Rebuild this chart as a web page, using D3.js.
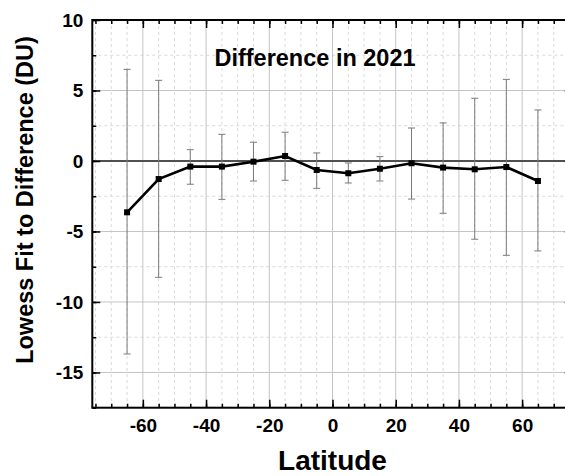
<!DOCTYPE html>
<html>
<head>
<meta charset="utf-8">
<script src="https://cdn.jsdelivr.net/npm/d3@7"></script>
<style>
  body { margin: 0; background: #fff; }
  svg { display: block; font-family: "Liberation Sans", Arial, sans-serif; }
</style>
</head>
<body>
<script>
// latitude bins and lowess fit with error range
const latitudes = [-65, -55, -45, -35, -25, -15, -5, 5, 15, 25, 35, 45, 55, 65];
const lowess = [-3.64, -1.28, -0.40, -0.40, -0.05, 0.35, -0.64, -0.87, -0.55, -0.16, -0.47, -0.59, -0.43, -1.42];
const errHigh = [6.5, 5.72, 0.80, 1.89, 1.33, 2.04, 0.57, -0.14, 0.31, 2.34, 2.70, 4.45, 5.79, 3.62];
const errLow = [-13.69, -8.25, -1.65, -2.72, -1.42, -1.37, -1.94, -1.56, -1.42, -2.70, -3.71, -5.55, -6.69, -6.38];
const xTicks = [-60, -40, -20, 0, 20, 40, 60];
const yTicks = [-15, -10, -5, 0, 5, 10];

const width = 565;
const height = 476;
const plotLeft = 92.3, plotRight = 572.7, plotTop = 20, plotBottom = 407.7;

const svg = d3.select('body').append('svg')
    .attr('width', width)
    .attr('height', height);

const x = d3.scaleLinear().domain([-76, 76]).range([plotLeft, plotRight]);
const y = d3.scaleLinear().domain([-17.5, 10]).range([plotBottom, plotTop]);

const xMinor = d3.range(-75, 76, 5);
const yMinor = d3.range(-17.5, 10.01, 2.5);
const plain = d => String(d);

// grid
const grid = svg.append('g');
grid.selectAll('.vminor')
    .data(xMinor.filter(v => v % 20 !== 0))
  .enter().append('line')
    .attr('x1', d => x(d)).attr('x2', d => x(d))
    .attr('y1', plotTop).attr('y2', plotBottom)
    .attr('stroke', '#dadada').attr('stroke-width', 1)
    .attr('stroke-dasharray', '3,3');
grid.selectAll('.hminor')
    .data(yMinor.filter(v => v % 5 !== 0))
  .enter().append('line')
    .attr('x1', plotLeft).attr('x2', plotRight)
    .attr('y1', d => y(d)).attr('y2', d => y(d))
    .attr('stroke', '#dadada').attr('stroke-width', 1)
    .attr('stroke-dasharray', '3,3');
grid.selectAll('.vmajor')
    .data(xTicks)
  .enter().append('line')
    .attr('x1', d => x(d)).attr('x2', d => x(d))
    .attr('y1', plotTop).attr('y2', plotBottom)
    .attr('stroke', '#c4c4c4').attr('stroke-width', 1);
grid.selectAll('.hmajor')
    .data(yTicks.filter(v => v !== 0 && v !== 10))
  .enter().append('line')
    .attr('x1', plotLeft).attr('x2', plotRight)
    .attr('y1', d => y(d)).attr('y2', d => y(d))
    .attr('stroke', '#c4c4c4').attr('stroke-width', 1);

// zero line
svg.append('line')
    .attr('x1', plotLeft).attr('x2', plotRight)
    .attr('y1', y(0)).attr('y2', y(0))
    .attr('stroke', '#505050').attr('stroke-width', 2);

// error bars
const eb = svg.append('g').attr('stroke', '#7a7a7a').attr('stroke-width', 1);
latitudes.forEach((lat, i) => {
  eb.append('line')
      .attr('x1', x(lat)).attr('x2', x(lat))
      .attr('y1', y(errLow[i])).attr('y2', y(errHigh[i]));
  [errLow[i], errHigh[i]].forEach(v => {
    eb.append('line')
        .attr('x1', x(lat) - 3.5).attr('x2', x(lat) + 3.5)
        .attr('y1', y(v)).attr('y2', y(v));
  });
});

// lowess line and markers
const line = d3.line()
    .x((d, i) => x(latitudes[i]))
    .y(d => y(d));
svg.append('path')
    .datum(lowess)
    .attr('d', line)
    .attr('fill', 'none')
    .attr('stroke', '#000')
    .attr('stroke-width', 2.6);
svg.selectAll('.pt')
    .data(lowess)
  .enter().append('rect')
    .attr('x', (d, i) => x(latitudes[i]) - 3)
    .attr('y', d => y(d) - 3)
    .attr('width', 6).attr('height', 6)
    .attr('fill', '#000');

// axes (ticks inside)
function styleAxis(g) {
  g.select('.domain').remove();
  g.selectAll('line').attr('stroke', '#000').attr('stroke-width', 1.5);
  g.selectAll('text')
      .attr('fill', '#000')
      .style('font-size', '19px')
      .style('font-weight', 'bold');
}

svg.append('g')
    .attr('transform', 'translate(0,' + plotBottom + ')')
    .call(d3.axisBottom(x).tickValues(xMinor).tickSize(-4).tickFormat(''))
    .call(styleAxis);
svg.append('g')
    .attr('transform', 'translate(0,' + plotBottom + ')')
    .call(d3.axisBottom(x).tickValues(xTicks).tickSize(-8).tickPadding(11).tickFormat(plain))
    .call(styleAxis);
svg.append('g')
    .attr('transform', 'translate(0,' + plotTop + ')')
    .call(d3.axisTop(x).tickValues(xMinor).tickSize(-4).tickFormat(''))
    .call(styleAxis);
svg.append('g')
    .attr('transform', 'translate(0,' + plotTop + ')')
    .call(d3.axisTop(x).tickValues(xTicks).tickSize(-8).tickFormat(''))
    .call(styleAxis);

svg.append('g')
    .attr('transform', 'translate(' + plotLeft + ',0)')
    .call(d3.axisLeft(y).tickValues(yMinor).tickSize(-4).tickFormat(''))
    .call(styleAxis);
svg.append('g')
    .attr('transform', 'translate(' + plotLeft + ',0)')
    .call(d3.axisLeft(y).tickValues(yTicks).tickSize(-8).tickPadding(9).tickFormat(plain))
    .call(styleAxis);
svg.append('g')
    .attr('transform', 'translate(' + plotRight + ',0)')
    .call(d3.axisRight(y).tickValues(yMinor).tickSize(-4).tickFormat(''))
    .call(styleAxis);
svg.append('g')
    .attr('transform', 'translate(' + plotRight + ',0)')
    .call(d3.axisRight(y).tickValues(yTicks).tickSize(-8).tickFormat(''))
    .call(styleAxis);

// frame
svg.append('rect')
    .attr('x', plotLeft).attr('y', plotTop)
    .attr('width', plotRight - plotLeft).attr('height', plotBottom - plotTop)
    .attr('fill', 'none')
    .attr('stroke', '#000')
    .attr('stroke-width', 2);

// texts
svg.append('text')
    .attr('x', 315).attr('y', 65.7)
    .attr('text-anchor', 'middle')
    .style('font-size', '23.5px').style('font-weight', 'bold')
    .text('Difference in 2021');

svg.append('text')
    .attr('x', (plotLeft + plotRight) / 2).attr('y', 469.5)
    .attr('text-anchor', 'middle')
    .style('font-size', '28px').style('font-weight', 'bold')
    .text('Latitude');

svg.append('text')
    .attr('transform', 'translate(33,200) rotate(-90)')
    .attr('text-anchor', 'middle')
    .style('font-size', '23.5px').style('font-weight', 'bold')
    .text('Lowess Fit to Difference (DU)');
</script>
</body>
</html>
